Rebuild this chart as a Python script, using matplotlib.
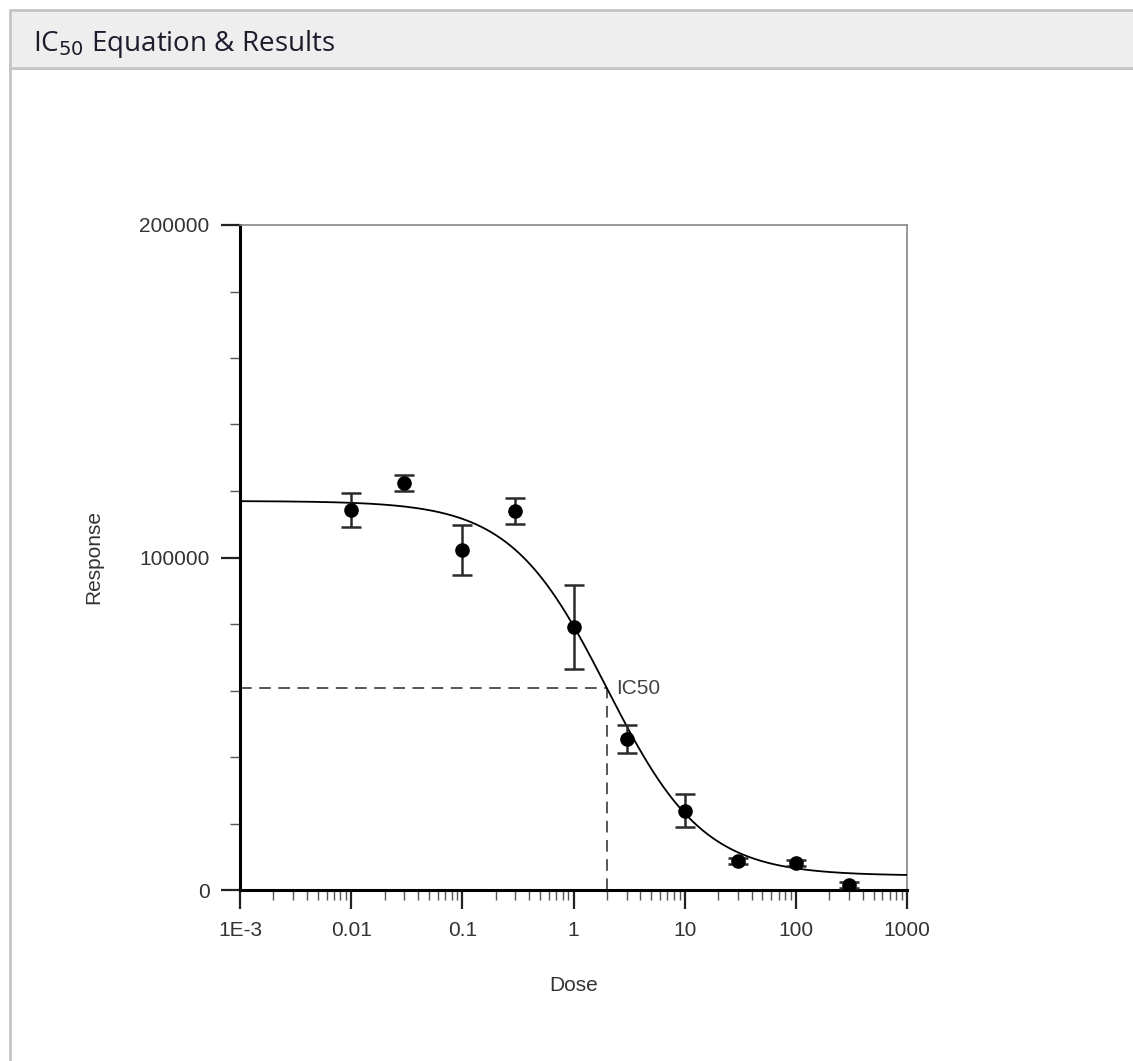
"""IC50 dose-response panel."""

import matplotlib.pyplot as plt
import numpy as np
from matplotlib.patches import Rectangle
from matplotlib.ticker import FixedLocator, LogLocator, NullFormatter

# measured points (mean +/- sd)
doses = [0.01, 0.03, 0.1, 0.3, 1, 3, 10, 30, 100, 300]
responses = [114300, 122400, 102300, 114000, 79100, 45400, 23800, 8700, 8100, 1500]
errors = [5000, 2300, 7600, 4000, 12500, 4200, 5000, 1000, 1000, 1000]

# fitted 4PL parameters
fit_top = 117000
fit_bottom = 4300
fit_ic50 = 2.0
fit_hill = 1.0

x_ticks = [1e-3, 1e-2, 1e-1, 1, 10, 100, 1000]
x_tick_labels = ["1E-3", "0.01", "0.1", "1", "10", "100", "1000"]
y_ticks = [0, 100000, 200000]

W, H = 1133, 1061
FONT = "Liberation Sans"
FS = 15
fig = plt.figure(figsize=(W / 100, H / 100), dpi=100)

# panel frame + header bar
fig.patches.append(Rectangle((10 / W, -0.1), 2, 1.1 - 68 / H, transform=fig.transFigure,
                             facecolor="white", edgecolor="#c4c4c4", linewidth=2,
                             zorder=-2))
fig.patches.append(Rectangle((10 / W, 1 - 68 / H), 2, 58 / H, transform=fig.transFigure,
                             facecolor="#eeeeee", edgecolor="#c4c4c4", linewidth=2,
                             zorder=-1))
fig.text(33 / W, 1 - 44 / H, r"IC$_{50}$ Equation & Results", fontsize=20,
         family="Open Sans", color="#1c1c2c", va="center", ha="left")

ax = fig.add_axes([240 / W, 1 - 890 / H, 667 / W, 665 / H])
ax.set_xscale("log")
ax.set_xlim(1e-3, 1000)
ax.set_ylim(0, 200000)

# fitted curve
xs = np.logspace(-3, 3, 400)
ys = fit_bottom + (fit_top - fit_bottom) / (1 + (xs / fit_ic50) ** fit_hill)
ax.plot(xs, ys, color="black", lw=1.3, zorder=3)

ax.errorbar(doses, responses, yerr=errors, fmt="o", color="black", ms=9.5,
            ecolor="#2a2a2a", elinewidth=1.8, capsize=7.5, capthick=1.8, zorder=4)

# IC50 guide lines
half = (fit_top + fit_bottom) / 2
dash = (0, (7, 4.5))
ax.plot([1e-3, fit_ic50], [half, half], ls=dash, color="#3a3a3a", lw=1.2)
ax.plot([fit_ic50, fit_ic50], [0, half], ls=dash, color="#3a3a3a", lw=1.2)
ax.text(fit_ic50 * 1.22, half, "IC50", fontsize=FS, family=FONT,
        color="#444444", va="center", ha="left")

ax.xaxis.set_major_locator(FixedLocator(x_ticks))
ax.set_xticklabels(x_tick_labels)
ax.xaxis.set_minor_locator(LogLocator(base=10, subs=np.arange(2, 10)))
ax.xaxis.set_minor_formatter(NullFormatter())
ax.set_yticks(y_ticks)
ax.set_yticklabels([str(v) for v in y_ticks])
ax.yaxis.set_minor_locator(FixedLocator(np.arange(20000, 200000, 20000)))

ax.tick_params(which="major", length=14, width=1.6, color="#222222",
               labelsize=FS, labelcolor="#333333", pad=8)
ax.tick_params(which="minor", length=7, width=1.0, color="#555555")
for lbl in ax.get_xticklabels() + ax.get_yticklabels():
    lbl.set_family(FONT)

for side in ("left", "bottom"):
    ax.spines[side].set_linewidth(2.2)
    ax.spines[side].set_color("black")
for side in ("top", "right"):
    ax.spines[side].set_linewidth(1.2)
    ax.spines[side].set_color("#888888")

ax.set_xlabel("Dose", fontsize=FS, family=FONT, color="#333333")
ax.xaxis.set_label_coords(0.5, -0.129)
ax.set_ylabel("Response", fontsize=FS, family=FONT, color="#333333")
ax.yaxis.set_label_coords(-0.205, 0.5)

fig.savefig("out.png", dpi=100)
